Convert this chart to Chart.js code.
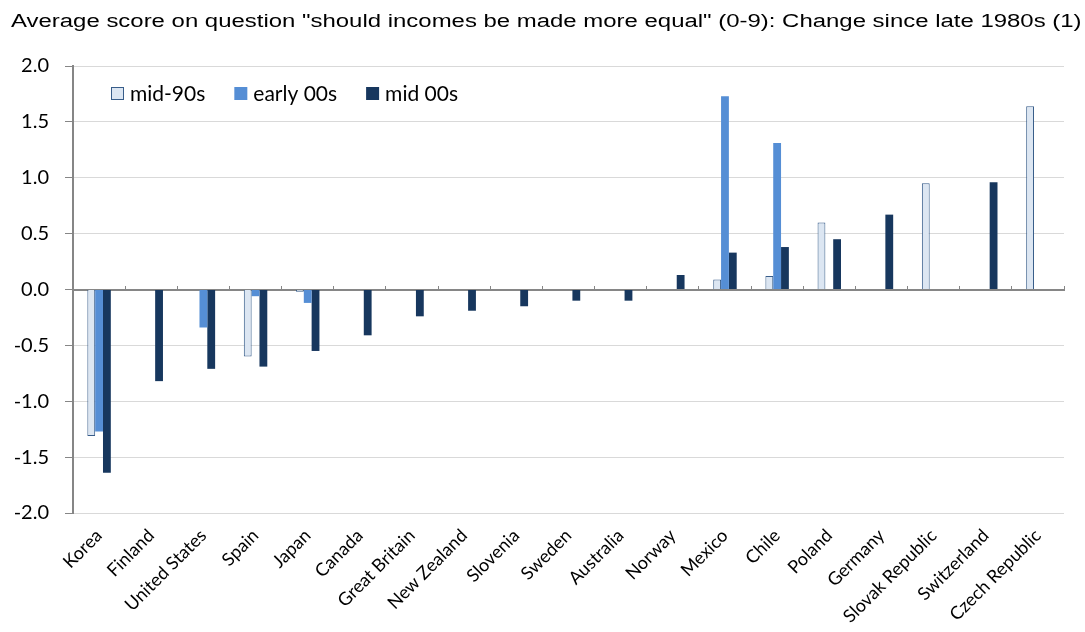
<!DOCTYPE html>
<html>
<head>
<meta charset="utf-8">
<script src="https://cdn.jsdelivr.net/npm/chart.js@4.4.1/dist/chart.umd.min.js"></script>
<style>
  html, body { margin: 0; padding: 0; background: #fff; }
  #wrap { width: 1085px; height: 632px; }
</style>
</head>
<body>
<div id="wrap"><canvas id="myChart"></canvas></div>
<script>
const chartTitle = 'Average score on question "should incomes be made more equal" (0-9): Change since late 1980s (1)';
const countries = ['Korea', 'Finland', 'United States', 'Spain', 'Japan', 'Canada', 'Great Britain',
    'New Zealand', 'Slovenia', 'Sweden', 'Australia', 'Norway', 'Mexico', 'Chile', 'Poland',
    'Germany', 'Slovak Republic', 'Switzerland', 'Czech Republic'];
const mid90s = [-1.31, null, null, -0.60, -0.02, null, null, null, null, null, null, null,
    0.09, 0.12, 0.60, null, 0.95, null, 1.64];
const early00s = [-1.27, null, -0.34, -0.06, -0.12, null, null, null, null, null, null, null,
    1.73, 1.31, null, null, null, null, null];
const mid00s = [-1.64, -0.82, -0.71, -0.69, -0.55, -0.41, -0.24, -0.19, -0.15, -0.10, -0.10, 0.13,
    0.33, 0.38, 0.45, 0.67, null, 0.96, null];
const yTicks = [-2.0, -1.5, -1.0, -0.5, 0.0, 0.5, 1.0, 1.5, 2.0];

const tickFont = 'Lato';

// the title in the original is drawn wide, so stretch it a little sideways
const wideTitle = {
    id: 'wideTitle',
    afterDraw(chart) {
        const ctx = chart.ctx;
        ctx.save();
        ctx.font = '18px "Liberation Sans", Arial';
        ctx.fillStyle = '#000';
        ctx.textBaseline = 'alphabetic';
        ctx.translate(11, 27);
        ctx.scale(1.33, 1);
        ctx.fillText(chartTitle, 0, 0);
        ctx.restore();
    }
};

// legend drawn inside the plot, top left
const insideLegend = {
    id: 'insideLegend',
    afterDraw(chart) {
        const ctx = chart.ctx;
        let x = chart.chartArea.left + 38;
        const y = chart.chartArea.top + 21;
        ctx.save();
        ctx.font = '21px ' + tickFont;
        ctx.textBaseline = 'middle';
        chart.data.datasets.forEach(function (ds) {
            ctx.fillStyle = ds.backgroundColor;
            ctx.fillRect(x, y, 13, 13);
            if (ds.borderWidth) {
                ctx.strokeStyle = ds.borderColor;
                ctx.lineWidth = 1;
                ctx.strokeRect(x + 0.5, y + 0.5, 12, 12);
            }
            ctx.fillStyle = '#000';
            ctx.fillText(ds.label, x + 19, y + 7);
            x += 19 + ctx.measureText(ds.label).width + 29;
        });
        ctx.restore();
    }
};

const ctx = document.getElementById('myChart').getContext('2d');
new Chart(ctx, {
    type: 'bar',
    data: {
        labels: countries,
        datasets: [
            { label: 'mid-90s', data: mid90s, backgroundColor: '#dce6f2', borderColor: '#385d8a', borderWidth: 1 },
            { label: 'early 00s', data: early00s, backgroundColor: '#558ed5', borderWidth: 0 },
            { label: 'mid 00s', data: mid00s, backgroundColor: '#17375e', borderWidth: 0 },
        ],
    },
    options: {
        responsive: true,
        maintainAspectRatio: false,
        animation: false,
        layout: { padding: { left: 10, right: 21, top: 66, bottom: 0 } },
        datasets: { bar: { xAxisID: 'x', categoryPercentage: 0.45, barPercentage: 1 } },
        plugins: {
            legend: { display: false },
            tooltip: { enabled: false },
            title: { display: false },
        },
        scales: {
            x: {
                type: 'category',
                grid: { display: false, drawTicks: false },
                border: { display: false },
                ticks: {
                    autoSkip: false, maxRotation: 45, minRotation: 45,
                    color: '#000', font: { family: tickFont, size: 18 }, padding: 12,
                },
                afterFit: function (scale) { scale.height = 119; },
            },
            x2: {
                type: 'category',
                labels: countries,
                position: { y: 0 },
                grid: { drawOnChartArea: false, offset: true, tickLength: -5, tickColor: '#868686' },
                border: { color: '#868686', width: 2 },
                ticks: { display: false },
            },
            y: {
                min: -2, max: 2,
                afterBuildTicks: function (scale) {
                    scale.ticks = yTicks.map(function (v) { return { value: v }; });
                },
                grid: { color: '#d9d9d9', tickLength: 8, tickColor: '#868686' },
                border: { color: '#868686', width: 2 },
                ticks: {
                    color: '#000', font: { family: tickFont, size: 20 }, padding: 16,
                    callback: function (v) { return v.toFixed(1); },
                },
                afterFit: function (scale) { scale.width = 63; },
            },
        },
    },
    plugins: [wideTitle, insideLegend],
});
</script>
</body>
</html>
